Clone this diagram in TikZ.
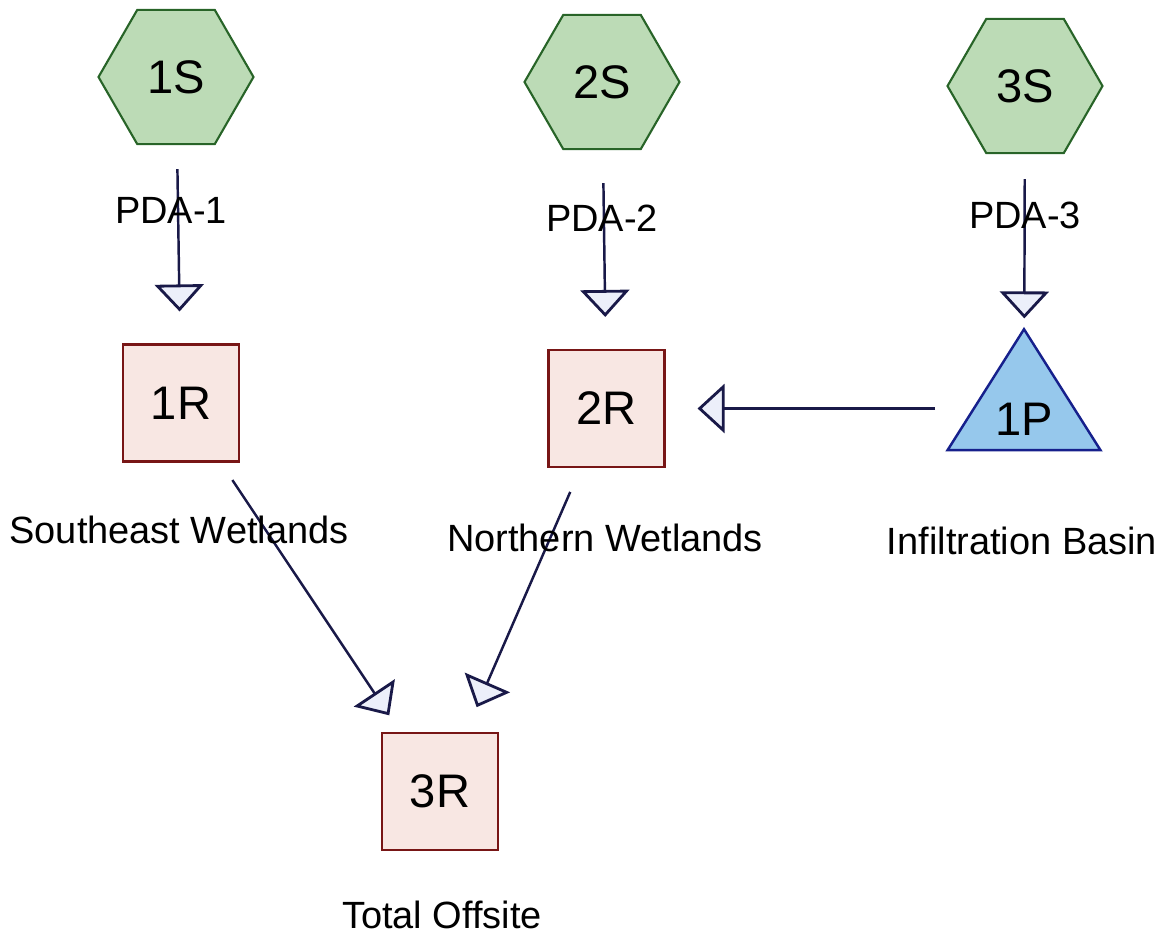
\documentclass[tikz,border=0pt]{standalone}
\usepackage{fontspec}
\setmainfont{Liberation Sans}
\usetikzlibrary{shapes.geometric,arrows.meta}

\definecolor{subfill}{RGB}{188,219,182}
\definecolor{subdraw}{RGB}{40,100,40}
\definecolor{reachfill}{RGB}{248,231,227}
\definecolor{reachdraw}{RGB}{120,22,22}
\definecolor{pondfill}{RGB}{150,200,236}
\definecolor{ponddraw}{RGB}{22,32,140}
\definecolor{linkdraw}{RGB}{25,25,72}
\definecolor{tipfill}{RGB}{236,239,250}

\begin{document}
\begin{tikzpicture}[
    subcat/.style={regular polygon, regular polygon sides=6, minimum size=1.55cm,
        inner sep=0pt, draw=subdraw, fill=subfill, line width=0.6pt,
        font=\fontsize{13.4}{16}\selectfont},
    reach/.style={rectangle, minimum width=1.16cm, minimum height=1.17cm,
        draw=reachdraw, fill=reachfill, line width=0.6pt,
        font=\fontsize{13.4}{16}\selectfont},
    pond/.style={isosceles triangle, isosceles triangle stretches,
        shape border rotate=90, minimum width=1.53cm, minimum height=1.21cm,
        inner sep=0pt, draw=ponddraw, fill=pondfill, line width=0.7pt,
        font=\fontsize{13.4}{16}\selectfont},
    link/.style={draw=linkdraw, line width=0.7pt,
        -{Triangle[width=0.49cm, length=0.27cm, fill=tipfill, line width=0.8pt]}},
    tag/.style={font=\fontsize{10.8}{13}\selectfont}
]
    \useasboundingbox (0,0) rectangle (11.67,-9.41);

    % Subcatchments
    \node[subcat] (s1) at (1.76,-0.77) {1S};
    \node[subcat] (s2) at (6.02,-0.82) {2S};
    \node[subcat] (s3) at (10.25,-0.86) {3S};

    % Reaches
    \node[reach] (r1) at (1.81,-4.03) {1R};
    \node[reach] (r2) at (6.065,-4.085) {2R};
    \node[reach] (r3) at (4.40,-7.915) {3R};

    % Pond
    \node[pond, anchor=apex] (p1) at (10.24,-3.26) {1P};

    % Links
    \draw[link, shorten <=0.24cm, shorten >=0.32cm] (s1) -- (r1);
    \draw[link, shorten <=0.33cm, shorten >=0.32cm] (s2) -- (r2);
    \draw[link, shorten <=0.25cm, shorten >=0.08cm] (s3) -- (p1);
    \draw[link, shorten <=0.89cm, shorten >=0.32cm] (p1.center |- r2) -- (r2);
    \draw[link, shorten <=0.21cm, shorten >=0.20cm] (r1) -- (r3);
    \draw[link, shorten <=0.26cm, shorten >=0.27cm] (r2) -- (r3);

    % Labels
    \node[tag] (t1) at (1.71,-2.10) {PDA-1};
    \node[tag] (t2) at (6.02,-2.18) {PDA-2};
    \node[tag] (t3) at (10.25,-2.15) {PDA-3};
    \node[tag] (n1) at (1.79,-5.30) {Southeast Wetlands};
    \node[tag] (n2) at (6.05,-5.38) {Northern Wetlands};
    \node[tag] (n3) at (10.22,-5.41) {Infiltration Basin};
    \node[tag] (n4) at (4.42,-9.15) {Total Offsite};
\end{tikzpicture}
\end{document}
